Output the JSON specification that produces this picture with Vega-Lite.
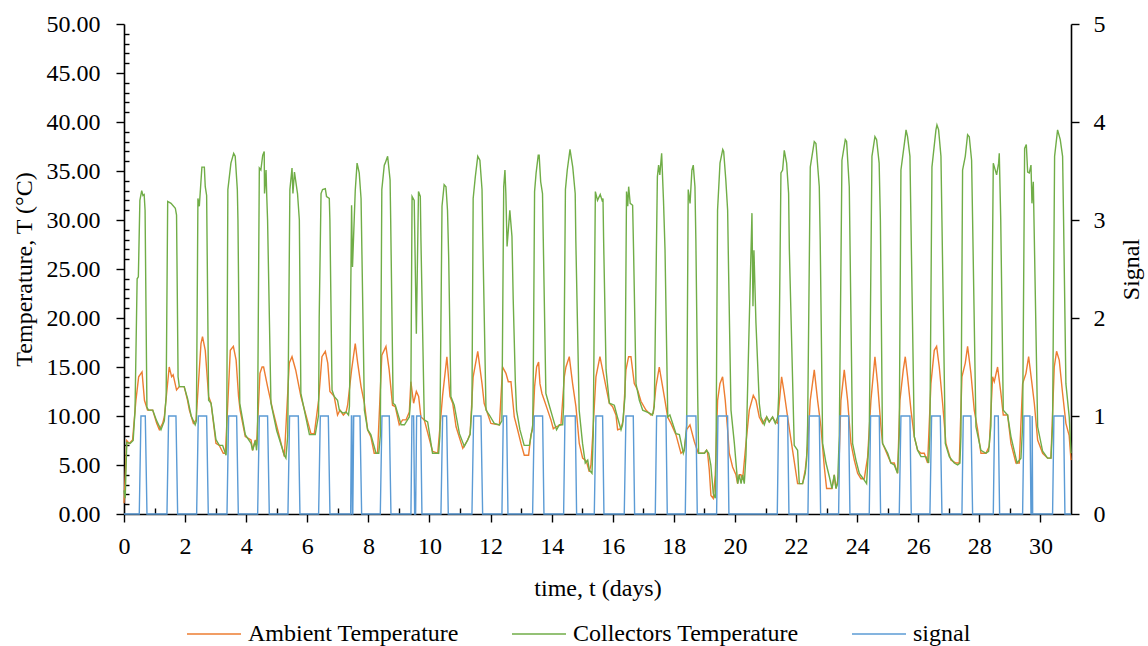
{
"$schema": "https://vega.github.io/schema/vega-lite/v6.json",
"width": 947, "height": 490,
"autosize": {"type": "none"},
"padding": {"left": 124, "top": 24, "right": 77, "bottom": 132},
"config": {
  "font": "Liberation Serif",
  "view": {"stroke": null},
  "axis": {"labelFont": "Liberation Serif", "titleFont": "Liberation Serif", "labelFontSize": 24, "titleFontSize": 24, "titleFontWeight": "normal", "labelColor": "#000", "titleColor": "#000", "domainColor": "#000", "tickColor": "#000", "grid": false, "zindex": 1, "domainWidth": 1.6, "tickWidth": 1.4, "labelFlush": false, "labelOverlap": false}
},
"datasets": {
"amb": [
{"t":0,"v":1.1},{"t":0.09,"v":7.5},{"t":0.17,"v":7.2},{"t":0.28,"v":7.55},{"t":0.39,"v":11.6},{"t":0.48,"v":14.0},{"t":0.59,"v":14.5},{"t":0.67,"v":11.6},{"t":0.77,"v":10.6},{"t":0.94,"v":10.6},{"t":1.07,"v":9.25},{"t":1.155,"v":8.6},{"t":1.265,"v":9.25},{"t":1.32,"v":9.9},{"t":1.48,"v":15.0},{"t":1.56,"v":14.0},{"t":1.61,"v":14.2},{"t":1.72,"v":12.65},{"t":1.81,"v":13.0},{"t":1.97,"v":13.0},{"t":2.08,"v":11.6},{"t":2.14,"v":10.6},{"t":2.27,"v":9.25},{"t":2.36,"v":9.6},{"t":2.52,"v":17.4},{"t":2.57,"v":18.1},{"t":2.66,"v":16.7},{"t":2.77,"v":12.0},{"t":2.85,"v":11.3},{"t":3.01,"v":7.2},{"t":3.12,"v":7.0},{"t":3.25,"v":6.2},{"t":3.32,"v":6.2},{"t":3.48,"v":16.7},{"t":3.58,"v":17.1},{"t":3.67,"v":15.7},{"t":3.75,"v":12.0},{"t":3.8,"v":10.6},{"t":3.97,"v":7.9},{"t":4.16,"v":7.55},{"t":4.21,"v":6.5},{"t":4.3,"v":7.55},{"t":4.34,"v":7.0},{"t":4.45,"v":14.35},{"t":4.52,"v":15.0},{"t":4.57,"v":15.0},{"t":4.7,"v":13.0},{"t":4.87,"v":10.6},{"t":5.03,"v":8.6},{"t":5.25,"v":5.85},{"t":5.41,"v":15.4},{"t":5.5,"v":16.05},{"t":5.62,"v":14.7},{"t":5.79,"v":12.0},{"t":5.85,"v":11.3},{"t":6.12,"v":8.2},{"t":6.23,"v":8.2},{"t":6.37,"v":11.6},{"t":6.48,"v":16.05},{"t":6.59,"v":16.6},{"t":6.67,"v":15.4},{"t":6.74,"v":12.5},{"t":6.88,"v":12.0},{"t":6.99,"v":10.1},{"t":7.07,"v":10.6},{"t":7.18,"v":10.1},{"t":7.27,"v":10.4},{"t":7.32,"v":11.1},{"t":7.45,"v":14.7},{"t":7.57,"v":17.4},{"t":7.65,"v":15.4},{"t":7.76,"v":13.0},{"t":7.87,"v":11.3},{"t":7.975,"v":8.6},{"t":8.08,"v":7.9},{"t":8.19,"v":6.2},{"t":8.3,"v":6.2},{"t":8.44,"v":16.2},{"t":8.575,"v":17.1},{"t":8.68,"v":14.7},{"t":8.79,"v":11.1},{"t":8.88,"v":10.95},{"t":9.01,"v":9.1},{"t":9.12,"v":9.6},{"t":9.23,"v":9.6},{"t":9.34,"v":10.4},{"t":9.39,"v":13.5},{"t":9.48,"v":11.3},{"t":9.57,"v":12.5},{"t":9.645,"v":12.0},{"t":9.72,"v":9.9},{"t":9.83,"v":9.6},{"t":10.1,"v":6.4},{"t":10.27,"v":6.2},{"t":10.43,"v":12.1},{"t":10.57,"v":16.05},{"t":10.67,"v":12.0},{"t":10.76,"v":11.3},{"t":10.87,"v":8.9},{"t":11.09,"v":6.7},{"t":11.25,"v":7.55},{"t":11.33,"v":8.2},{"t":11.43,"v":14.0},{"t":11.58,"v":16.6},{"t":11.72,"v":13.3},{"t":11.79,"v":11.3},{"t":12.01,"v":9.25},{"t":12.29,"v":9.1},{"t":12.394,"v":15.0},{"t":12.503,"v":14.35},{"t":12.58,"v":13.5},{"t":12.667,"v":13.5},{"t":12.776,"v":9.9},{"t":12.885,"v":8.6},{"t":12.994,"v":7.2},{"t":13.103,"v":6.0},{"t":13.245,"v":6.0},{"t":13.321,"v":8.1},{"t":13.376,"v":8.6},{"t":13.441,"v":13.0},{"t":13.507,"v":15.0},{"t":13.572,"v":15.5},{"t":13.616,"v":13.3},{"t":13.681,"v":12.3},{"t":13.758,"v":11.6},{"t":13.867,"v":10.6},{"t":13.976,"v":9.6},{"t":14.053,"v":8.7},{"t":14.14,"v":8.9},{"t":14.304,"v":9.1},{"t":14.413,"v":14.0},{"t":14.467,"v":15.0},{"t":14.576,"v":16.05},{"t":14.685,"v":13.3},{"t":14.794,"v":10.95},{"t":14.903,"v":7.2},{"t":15.013,"v":5.7},{"t":15.1,"v":5.5},{"t":15.144,"v":5.3},{"t":15.231,"v":4.3},{"t":15.286,"v":5.0},{"t":15.341,"v":7.9},{"t":15.449,"v":14.0},{"t":15.58,"v":16.05},{"t":15.667,"v":14.7},{"t":15.776,"v":13.0},{"t":15.886,"v":11.3},{"t":15.995,"v":10.95},{"t":16.104,"v":10.1},{"t":16.159,"v":8.6},{"t":16.268,"v":8.7},{"t":16.344,"v":9.6},{"t":16.431,"v":14.7},{"t":16.518,"v":16.05},{"t":16.595,"v":16.05},{"t":16.704,"v":13.3},{"t":16.813,"v":12.65},{"t":16.922,"v":11.5},{"t":17.086,"v":10.6},{"t":17.25,"v":10.1},{"t":17.326,"v":10.3},{"t":17.413,"v":13.0},{"t":17.522,"v":15.0},{"t":17.631,"v":13.0},{"t":17.708,"v":11.6},{"t":17.795,"v":9.9},{"t":17.905,"v":9.25},{"t":18.068,"v":8.1},{"t":18.232,"v":6.2},{"t":18.341,"v":6.5},{"t":18.418,"v":8.6},{"t":18.527,"v":9.1},{"t":18.669,"v":7.4},{"t":18.8,"v":6.2},{"t":18.995,"v":6.2},{"t":19.071,"v":6.5},{"t":19.104,"v":6.2},{"t":19.159,"v":4.5},{"t":19.213,"v":1.9},{"t":19.29,"v":1.6},{"t":19.355,"v":4.0},{"t":19.432,"v":11.6},{"t":19.508,"v":13.3},{"t":19.595,"v":14.0},{"t":19.682,"v":11.6},{"t":19.759,"v":8.6},{"t":19.813,"v":6.2},{"t":19.922,"v":4.8},{"t":20.032,"v":4.0},{"t":20.086,"v":3.1},{"t":20.141,"v":4.0},{"t":20.195,"v":4.0},{"t":20.25,"v":3.5},{"t":20.359,"v":7.2},{"t":20.468,"v":10.6},{"t":20.6,"v":12.1},{"t":20.687,"v":11.6},{"t":20.796,"v":9.9},{"t":20.905,"v":9.25},{"t":21.036,"v":9.9},{"t":21.124,"v":9.4},{"t":21.233,"v":9.9},{"t":21.32,"v":9.4},{"t":21.396,"v":9.25},{"t":21.45,"v":11.3},{"t":21.527,"v":14.0},{"t":21.614,"v":12.3},{"t":21.723,"v":9.9},{"t":21.886,"v":6.5},{"t":22.05,"v":3.1},{"t":22.214,"v":3.1},{"t":22.301,"v":4.5},{"t":22.378,"v":6.9},{"t":22.465,"v":11.6},{"t":22.596,"v":14.7},{"t":22.705,"v":11.6},{"t":22.814,"v":8.9},{"t":22.924,"v":4.8},{"t":23.0,"v":2.6},{"t":23.175,"v":2.6},{"t":23.251,"v":4.0},{"t":23.306,"v":2.6},{"t":23.393,"v":3.8},{"t":23.469,"v":11.6},{"t":23.578,"v":14.7},{"t":23.687,"v":11.6},{"t":23.797,"v":7.2},{"t":23.906,"v":5.5},{"t":24.015,"v":4.15},{"t":24.124,"v":3.6},{"t":24.233,"v":3.6},{"t":24.342,"v":5.8},{"t":24.451,"v":11.6},{"t":24.582,"v":16.05},{"t":24.669,"v":13.3},{"t":24.778,"v":8.9},{"t":24.833,"v":7.2},{"t":24.996,"v":6.0},{"t":25.105,"v":5.2},{"t":25.214,"v":5.2},{"t":25.323,"v":4.15},{"t":25.4,"v":11.6},{"t":25.509,"v":14.7},{"t":25.575,"v":16.05},{"t":25.651,"v":14.0},{"t":25.761,"v":10.6},{"t":25.87,"v":7.9},{"t":25.979,"v":6.5},{"t":26.088,"v":6.2},{"t":26.197,"v":6.2},{"t":26.306,"v":5.2},{"t":26.415,"v":13.3},{"t":26.524,"v":16.7},{"t":26.601,"v":17.1},{"t":26.688,"v":15.0},{"t":26.797,"v":11.3},{"t":26.906,"v":7.2},{"t":27.069,"v":5.5},{"t":27.233,"v":5.2},{"t":27.342,"v":5.2},{"t":27.43,"v":14.0},{"t":27.539,"v":15.4},{"t":27.615,"v":17.1},{"t":27.724,"v":14.35},{"t":27.833,"v":10.6},{"t":27.943,"v":8.6},{"t":28.052,"v":6.2},{"t":28.216,"v":6.2},{"t":28.324,"v":6.9},{"t":28.434,"v":14.0},{"t":28.488,"v":13.5},{"t":28.597,"v":15.0},{"t":28.706,"v":12.3},{"t":28.783,"v":10.1},{"t":28.925,"v":10.1},{"t":29.034,"v":7.2},{"t":29.198,"v":5.2},{"t":29.307,"v":5.2},{"t":29.416,"v":13.3},{"t":29.526,"v":14.35},{"t":29.613,"v":16.05},{"t":29.722,"v":13.3},{"t":29.799,"v":11.3},{"t":29.908,"v":7.55},{"t":30.072,"v":6.2},{"t":30.234,"v":5.7},{"t":30.344,"v":5.7},{"t":30.452,"v":15.0},{"t":30.528,"v":16.6},{"t":30.615,"v":15.7},{"t":30.725,"v":12.3},{"t":30.833,"v":9.25},{"t":30.94,"v":8.0},{"t":31.0,"v":5.5}
],
"col": [
{"t":0,"v":2.4},{"t":0.04,"v":1.6},{"t":0.09,"v":7.3},{"t":0.2,"v":7.2},{"t":0.3,"v":7.5},{"t":0.36,"v":10.5},{"t":0.43,"v":24.0},{"t":0.47,"v":24.2},{"t":0.52,"v":32.0},{"t":0.58,"v":33.0},{"t":0.62,"v":32.5},{"t":0.66,"v":32.6},{"t":0.69,"v":31.0},{"t":0.75,"v":10.9},{"t":0.8,"v":10.6},{"t":0.94,"v":10.6},{"t":1.07,"v":9.5},{"t":1.21,"v":8.6},{"t":1.32,"v":9.5},{"t":1.38,"v":12.0},{"t":1.43,"v":31.9},{"t":1.54,"v":31.7},{"t":1.68,"v":31.2},{"t":1.72,"v":30.5},{"t":1.77,"v":14.0},{"t":1.81,"v":13.0},{"t":1.97,"v":13.0},{"t":2.08,"v":11.8},{"t":2.2,"v":10.0},{"t":2.33,"v":9.1},{"t":2.37,"v":9.5},{"t":2.42,"v":32.2},{"t":2.465,"v":31.4},{"t":2.55,"v":35.4},{"t":2.63,"v":35.4},{"t":2.66,"v":33.4},{"t":2.705,"v":32.5},{"t":2.77,"v":11.6},{"t":2.85,"v":11.3},{"t":3.01,"v":7.6},{"t":3.12,"v":7.0},{"t":3.23,"v":7.0},{"t":3.34,"v":6.0},{"t":3.36,"v":7.0},{"t":3.4,"v":33.1},{"t":3.5,"v":35.8},{"t":3.59,"v":36.8},{"t":3.64,"v":36.5},{"t":3.71,"v":33.1},{"t":3.73,"v":30.0},{"t":3.79,"v":11.3},{"t":3.97,"v":8.1},{"t":4.16,"v":7.2},{"t":4.21,"v":6.5},{"t":4.3,"v":7.5},{"t":4.34,"v":6.5},{"t":4.37,"v":8.0},{"t":4.43,"v":35.3},{"t":4.48,"v":35.1},{"t":4.54,"v":36.6},{"t":4.59,"v":37.0},{"t":4.6,"v":32.7},{"t":4.65,"v":35.1},{"t":4.67,"v":32.7},{"t":4.7,"v":30.0},{"t":4.81,"v":11.3},{"t":5.0,"v":8.5},{"t":5.25,"v":6.0},{"t":5.3,"v":5.7},{"t":5.36,"v":8.0},{"t":5.43,"v":33.1},{"t":5.5,"v":35.3},{"t":5.53,"v":32.7},{"t":5.58,"v":34.9},{"t":5.68,"v":32.7},{"t":5.74,"v":30.0},{"t":5.79,"v":12.3},{"t":6.07,"v":8.1},{"t":6.23,"v":8.1},{"t":6.26,"v":8.1},{"t":6.37,"v":10.1},{"t":6.39,"v":20.0},{"t":6.45,"v":32.7},{"t":6.5,"v":33.1},{"t":6.59,"v":33.2},{"t":6.63,"v":32.4},{"t":6.72,"v":32.2},{"t":6.74,"v":30.0},{"t":6.81,"v":12.65},{"t":6.88,"v":12.0},{"t":6.99,"v":11.6},{"t":7.05,"v":10.6},{"t":7.16,"v":10.3},{"t":7.27,"v":10.4},{"t":7.35,"v":10.1},{"t":7.38,"v":11.0},{"t":7.43,"v":25.0},{"t":7.45,"v":31.5},{"t":7.48,"v":25.2},{"t":7.57,"v":33.0},{"t":7.63,"v":35.8},{"t":7.7,"v":34.8},{"t":7.76,"v":32.2},{"t":7.87,"v":10.6},{"t":7.975,"v":8.6},{"t":8.08,"v":8.1},{"t":8.25,"v":6.2},{"t":8.34,"v":6.2},{"t":8.39,"v":8.0},{"t":8.44,"v":33.1},{"t":8.52,"v":35.6},{"t":8.55,"v":35.8},{"t":8.63,"v":36.5},{"t":8.71,"v":34.1},{"t":8.73,"v":30.0},{"t":8.81,"v":11.3},{"t":8.88,"v":11.1},{"t":9.07,"v":9.1},{"t":9.18,"v":9.1},{"t":9.28,"v":9.6},{"t":9.34,"v":9.9},{"t":9.39,"v":12.0},{"t":9.43,"v":32.4},{"t":9.5,"v":32.0},{"t":9.57,"v":18.4},{"t":9.64,"v":32.9},{"t":9.7,"v":32.4},{"t":9.72,"v":28.0},{"t":9.83,"v":9.6},{"t":9.94,"v":9.4},{"t":10.1,"v":6.2},{"t":10.3,"v":6.2},{"t":10.34,"v":8.0},{"t":10.41,"v":31.4},{"t":10.48,"v":33.6},{"t":10.54,"v":33.4},{"t":10.59,"v":31.0},{"t":10.63,"v":26.0},{"t":10.7,"v":12.0},{"t":10.81,"v":11.1},{"t":10.98,"v":8.2},{"t":11.14,"v":6.9},{"t":11.25,"v":7.55},{"t":11.33,"v":8.1},{"t":11.39,"v":11.0},{"t":11.43,"v":32.2},{"t":11.5,"v":34.4},{"t":11.58,"v":36.5},{"t":11.65,"v":36.1},{"t":11.72,"v":33.1},{"t":11.74,"v":29.0},{"t":11.85,"v":10.6},{"t":11.96,"v":10.1},{"t":12.12,"v":9.25},{"t":12.29,"v":9.1},{"t":12.37,"v":9.5},{"t":12.43,"v":33.4},{"t":12.47,"v":35.1},{"t":12.5,"v":32.7},{"t":12.54,"v":27.3},{"t":12.63,"v":31.0},{"t":12.7,"v":28.3},{"t":12.74,"v":22.0},{"t":12.81,"v":13.5},{"t":12.85,"v":10.6},{"t":12.96,"v":8.6},{"t":13.1,"v":7.0},{"t":13.27,"v":7.0},{"t":13.32,"v":7.9},{"t":13.38,"v":9.1},{"t":13.4,"v":15.0},{"t":13.44,"v":32.9},{"t":13.49,"v":34.8},{"t":13.56,"v":36.6},{"t":13.59,"v":36.6},{"t":13.64,"v":33.9},{"t":13.7,"v":32.7},{"t":13.725,"v":28.0},{"t":13.81,"v":12.3},{"t":13.9,"v":11.3},{"t":14.09,"v":9.25},{"t":14.16,"v":8.6},{"t":14.25,"v":9.1},{"t":14.36,"v":9.1},{"t":14.39,"v":11.0},{"t":14.45,"v":33.1},{"t":14.51,"v":35.1},{"t":14.6,"v":37.2},{"t":14.69,"v":35.4},{"t":14.77,"v":32.7},{"t":14.79,"v":28.0},{"t":14.9,"v":10.6},{"t":15.01,"v":7.2},{"t":15.1,"v":5.2},{"t":15.18,"v":5.5},{"t":15.23,"v":4.5},{"t":15.32,"v":4.15},{"t":15.36,"v":8.0},{"t":15.43,"v":32.9},{"t":15.5,"v":32.0},{"t":15.59,"v":32.6},{"t":15.65,"v":32.0},{"t":15.68,"v":32.2},{"t":15.7,"v":28.0},{"t":15.78,"v":14.7},{"t":15.89,"v":11.3},{"t":16.05,"v":11.1},{"t":16.16,"v":9.8},{"t":16.27,"v":8.6},{"t":16.32,"v":9.1},{"t":16.4,"v":12.0},{"t":16.45,"v":32.9},{"t":16.49,"v":31.4},{"t":16.52,"v":33.4},{"t":16.57,"v":31.7},{"t":16.65,"v":31.5},{"t":16.68,"v":27.0},{"t":16.76,"v":13.3},{"t":16.87,"v":11.6},{"t":16.98,"v":10.6},{"t":17.2,"v":10.3},{"t":17.3,"v":10.1},{"t":17.36,"v":11.0},{"t":17.46,"v":34.4},{"t":17.5,"v":35.6},{"t":17.54,"v":34.6},{"t":17.6,"v":36.8},{"t":17.66,"v":32.0},{"t":17.71,"v":27.0},{"t":17.8,"v":9.9},{"t":17.87,"v":10.1},{"t":18.07,"v":8.2},{"t":18.18,"v":8.1},{"t":18.31,"v":6.2},{"t":18.34,"v":6.5},{"t":18.42,"v":9.0},{"t":18.47,"v":33.1},{"t":18.53,"v":31.7},{"t":18.59,"v":35.1},{"t":18.635,"v":35.6},{"t":18.69,"v":33.4},{"t":18.72,"v":28.0},{"t":18.78,"v":12.0},{"t":18.81,"v":6.2},{"t":19.0,"v":6.2},{"t":19.07,"v":6.5},{"t":19.14,"v":6.2},{"t":19.21,"v":5.0},{"t":19.29,"v":2.1},{"t":19.355,"v":1.6},{"t":19.38,"v":6.0},{"t":19.43,"v":31.0},{"t":19.51,"v":35.8},{"t":19.6,"v":37.2},{"t":19.63,"v":37.0},{"t":19.7,"v":34.1},{"t":19.76,"v":31.0},{"t":19.79,"v":25.0},{"t":19.87,"v":10.6},{"t":19.98,"v":7.2},{"t":20.09,"v":3.1},{"t":20.14,"v":4.0},{"t":20.2,"v":3.1},{"t":20.25,"v":4.0},{"t":20.305,"v":3.1},{"t":20.36,"v":6.0},{"t":20.45,"v":17.4},{"t":20.556,"v":30.7},{"t":20.589,"v":21.2},{"t":20.621,"v":26.9},{"t":20.687,"v":19.5},{"t":20.796,"v":11.3},{"t":20.85,"v":9.9},{"t":20.96,"v":9.1},{"t":21.04,"v":9.9},{"t":21.12,"v":9.4},{"t":21.23,"v":9.9},{"t":21.32,"v":9.25},{"t":21.4,"v":9.9},{"t":21.43,"v":12.0},{"t":21.505,"v":34.8},{"t":21.56,"v":35.1},{"t":21.614,"v":37.1},{"t":21.691,"v":35.8},{"t":21.756,"v":32.7},{"t":21.78,"v":27.0},{"t":21.94,"v":7.0},{"t":22.05,"v":6.5},{"t":22.105,"v":3.1},{"t":22.214,"v":3.1},{"t":22.3,"v":4.15},{"t":22.345,"v":5.5},{"t":22.378,"v":9.0},{"t":22.465,"v":35.4},{"t":22.596,"v":38.0},{"t":22.651,"v":37.8},{"t":22.76,"v":33.4},{"t":22.79,"v":28.0},{"t":22.87,"v":7.2},{"t":22.98,"v":5.2},{"t":23.09,"v":3.8},{"t":23.175,"v":2.6},{"t":23.25,"v":4.0},{"t":23.306,"v":2.6},{"t":23.36,"v":3.1},{"t":23.415,"v":8.0},{"t":23.502,"v":36.1},{"t":23.611,"v":38.2},{"t":23.654,"v":38.0},{"t":23.742,"v":33.4},{"t":23.764,"v":28.0},{"t":23.85,"v":7.2},{"t":23.96,"v":5.5},{"t":24.07,"v":4.15},{"t":24.2,"v":3.6},{"t":24.309,"v":3.1},{"t":24.396,"v":8.0},{"t":24.484,"v":36.5},{"t":24.582,"v":38.5},{"t":24.637,"v":38.2},{"t":24.72,"v":35.8},{"t":24.76,"v":30.0},{"t":24.83,"v":7.2},{"t":25.0,"v":6.2},{"t":25.105,"v":5.2},{"t":25.214,"v":5.0},{"t":25.323,"v":4.15},{"t":25.378,"v":8.0},{"t":25.433,"v":35.1},{"t":25.575,"v":38.5},{"t":25.6,"v":39.2},{"t":25.65,"v":38.5},{"t":25.728,"v":36.5},{"t":25.76,"v":30.0},{"t":25.87,"v":7.9},{"t":25.98,"v":6.5},{"t":26.09,"v":5.85},{"t":26.25,"v":5.85},{"t":26.34,"v":5.2},{"t":26.38,"v":8.0},{"t":26.448,"v":35.4},{"t":26.579,"v":39.2},{"t":26.612,"v":39.7},{"t":26.666,"v":39.2},{"t":26.743,"v":36.5},{"t":26.775,"v":30.0},{"t":26.885,"v":7.2},{"t":27.016,"v":5.85},{"t":27.178,"v":5.2},{"t":27.288,"v":5.0},{"t":27.364,"v":5.2},{"t":27.397,"v":8.0},{"t":27.451,"v":35.1},{"t":27.539,"v":36.5},{"t":27.615,"v":38.7},{"t":27.67,"v":38.5},{"t":27.746,"v":36.1},{"t":27.779,"v":30.0},{"t":27.888,"v":8.9},{"t":28.052,"v":6.5},{"t":28.216,"v":6.2},{"t":28.303,"v":6.4},{"t":28.379,"v":9.0},{"t":28.456,"v":35.8},{"t":28.565,"v":34.6},{"t":28.63,"v":35.8},{"t":28.652,"v":36.8},{"t":28.7,"v":30.0},{"t":28.783,"v":10.6},{"t":28.925,"v":10.1},{"t":29.034,"v":7.9},{"t":29.235,"v":5.2},{"t":29.362,"v":5.7},{"t":29.416,"v":9.0},{"t":29.482,"v":37.3},{"t":29.537,"v":37.7},{"t":29.581,"v":34.9},{"t":29.635,"v":34.8},{"t":29.69,"v":35.6},{"t":29.722,"v":31.7},{"t":29.766,"v":33.9},{"t":29.8,"v":28.0},{"t":29.908,"v":8.9},{"t":30.072,"v":6.4},{"t":30.234,"v":5.7},{"t":30.344,"v":5.7},{"t":30.397,"v":9.0},{"t":30.463,"v":36.5},{"t":30.561,"v":39.2},{"t":30.648,"v":38.2},{"t":30.725,"v":36.5},{"t":30.757,"v":30.0},{"t":30.833,"v":13.3},{"t":30.942,"v":9.9},{"t":31.0,"v":6.2}
],
"sig": [
{"t":0,"s":0},{"t":0.5,"s":0},{"t":0.555,"s":1},{"t":0.697,"s":1},{"t":0.752,"s":0},
{"t":1.406,"s":0},{"t":1.461,"s":1},{"t":1.701,"s":1},{"t":1.756,"s":0},
{"t":2.378,"s":0},{"t":2.432,"s":1},{"t":2.705,"s":1},{"t":2.759,"s":0},
{"t":3.371,"s":0},{"t":3.425,"s":1},{"t":3.687,"s":1},{"t":3.742,"s":0},
{"t":4.375,"s":0},{"t":4.43,"s":1},{"t":4.7,"s":1},{"t":4.756,"s":0},
{"t":5.367,"s":0},{"t":5.42,"s":1},{"t":5.706,"s":1},{"t":5.76,"s":0},
{"t":6.371,"s":0},{"t":6.426,"s":1},{"t":6.688,"s":1},{"t":6.742,"s":0},
{"t":7.42,"s":0},{"t":7.445,"s":1},{"t":7.46,"s":1},{"t":7.475,"s":0},{"t":7.49,"s":0},{"t":7.52,"s":1},{"t":7.724,"s":1},{"t":7.779,"s":0},
{"t":8.39,"s":0},{"t":8.444,"s":1},{"t":8.684,"s":1},{"t":8.739,"s":0},
{"t":9.393,"s":0},{"t":9.426,"s":1},{"t":9.481,"s":1},{"t":9.514,"s":0},{"t":9.546,"s":0},{"t":9.579,"s":1},{"t":9.71,"s":1},{"t":9.753,"s":0},
{"t":10.375,"s":0},{"t":10.43,"s":1},{"t":10.561,"s":1},{"t":10.615,"s":0},
{"t":11.39,"s":0},{"t":11.445,"s":1},{"t":11.685,"s":1},{"t":11.74,"s":0},
{"t":12.372,"s":0},{"t":12.416,"s":1},{"t":12.525,"s":1},{"t":12.569,"s":0},
{"t":13.376,"s":0},{"t":13.43,"s":1},{"t":13.703,"s":1},{"t":13.747,"s":0},
{"t":14.391,"s":0},{"t":14.435,"s":1},{"t":14.772,"s":1},{"t":14.816,"s":0},
{"t":15.395,"s":0},{"t":15.449,"s":1},{"t":15.667,"s":1},{"t":15.711,"s":0},
{"t":16.376,"s":0},{"t":16.431,"s":1},{"t":16.671,"s":1},{"t":16.715,"s":0},
{"t":17.392,"s":0},{"t":17.435,"s":1},{"t":17.741,"s":1},{"t":17.784,"s":0},
{"t":18.374,"s":0},{"t":18.418,"s":1},{"t":18.722,"s":1},{"t":18.766,"s":0},
{"t":19.399,"s":0},{"t":19.443,"s":1},{"t":19.759,"s":1},{"t":19.802,"s":0},
{"t":21.385,"s":0},{"t":21.429,"s":1},{"t":21.723,"s":1},{"t":21.767,"s":0},
{"t":22.389,"s":0},{"t":22.432,"s":1},{"t":22.76,"s":1},{"t":22.804,"s":0},
{"t":23.393,"s":0},{"t":23.437,"s":1},{"t":23.72,"s":1},{"t":23.764,"s":0},
{"t":24.396,"s":0},{"t":24.44,"s":1},{"t":24.724,"s":1},{"t":24.767,"s":0},
{"t":25.378,"s":0},{"t":25.433,"s":1},{"t":25.728,"s":1},{"t":25.771,"s":0},
{"t":26.382,"s":0},{"t":26.437,"s":1},{"t":26.721,"s":1},{"t":26.775,"s":0},
{"t":27.43,"s":0},{"t":27.473,"s":1},{"t":27.724,"s":1},{"t":27.779,"s":0},
{"t":28.456,"s":0},{"t":28.499,"s":1},{"t":28.619,"s":1},{"t":28.663,"s":0},
{"t":29.416,"s":0},{"t":29.46,"s":1},{"t":29.657,"s":1},{"t":29.69,"s":0},{"t":29.72,"s":0},{"t":29.73,"s":1},{"t":29.745,"s":0},
{"t":30.397,"s":0},{"t":30.441,"s":1},{"t":30.757,"s":1},{"t":30.801,"s":0},
{"t":31.0,"s":0}
]
},
"layer": [
  {
    "layer": [
      {
        "data": {"name": "amb"},
        "mark": {"type": "line", "strokeWidth": 1.4},
        "encoding": {
          "x": {"field": "t", "type": "quantitative", "scale": {"domain": [0, 31], "nice": false, "zero": false},
                "axis": {"values": [0,2,4,6,8,10,12,14,16,18,20,22,24,26,28,30], "format": "d", "tickSize": 8, "labelPadding": 12, "title": "time, t (days)", "titlePadding": 18}},
          "y": {"field": "v", "type": "quantitative", "scale": {"domain": [0, 50], "nice": false, "zero": true},
                "axis": {"orient": "left", "values": [0,5,10,15,20,25,30,35,40,45,50], "format": ".2f", "tickSize": 8, "labelPadding": 16, "title": "Temperature, T (°C)", "titlePadding": 10}},
          "color": {"datum": "Ambient Temperature", "type": "nominal",
                    "scale": {"domain": ["Ambient Temperature", "Collectors Temperature", "signal"], "range": ["#ED7D31", "#70AD47", "#5B9BD5"]},
                    "legend": {"title": null, "orient": "none", "legendX": 62, "legendY": 582, "direction": "horizontal", "symbolType": "stroke", "symbolSize": 2916, "symbolStrokeWidth": 1.5, "labelFontSize": 24, "labelFont": "Liberation Serif", "labelColor": "#000", "columnPadding": 50, "labelOffset": 6, "labelLimit": 400}}
        }
      },
      {
        "data": {"name": "col"},
        "mark": {"type": "line", "strokeWidth": 1.4},
        "encoding": {
          "x": {"field": "t", "type": "quantitative", "scale": {"domain": [0, 31], "nice": false, "zero": false},
                "axis": {"values": [0,2,4,6,8,10,12,14,16,18,20,22,24,26,28,30], "format": "d", "tickSize": 8, "labelPadding": 12, "title": "time, t (days)", "titlePadding": 18}},
          "y": {"field": "v", "type": "quantitative", "scale": {"domain": [0, 50], "nice": false, "zero": true},
                "axis": {"orient": "left", "values": [1,2,3,4,6,7,8,9,11,12,13,14,16,17,18,19,21,22,23,24,26,27,28,29,31,32,33,34,36,37,38,39,41,42,43,44,46,47,48,49], "tickSize": -5, "labels": false, "domain": false, "title": null}},
          "color": {"datum": "Collectors Temperature", "type": "nominal",
                    "scale": {"domain": ["Ambient Temperature", "Collectors Temperature", "signal"], "range": ["#ED7D31", "#70AD47", "#5B9BD5"]}}
        }
      }
    ],
    "resolve": {"axis": {"y": "independent"}}
  },
  {
    "data": {"name": "sig"},
    "mark": {"type": "line", "strokeWidth": 1.4},
    "encoding": {
      "x": {"field": "t", "type": "quantitative", "scale": {"domain": [0, 31], "nice": false, "zero": false},
            "axis": {"orient": "bottom", "values": [1,3,5,7,9,11,13,15,17,19,21,23,25,27,29], "tickSize": -6, "labels": false, "domain": false, "title": null}},
      "y": {"field": "s", "type": "quantitative", "scale": {"domain": [0, 5], "nice": false},
            "axis": {"orient": "right", "values": [0,1,2,3,4,5], "format": "d", "tickSize": 8, "labelPadding": 14, "title": "Signal", "titleAngle": 270, "titlePadding": 38}},
      "color": {"datum": "signal", "type": "nominal",
                "scale": {"domain": ["Ambient Temperature", "Collectors Temperature", "signal"], "range": ["#ED7D31", "#70AD47", "#5B9BD5"]}}
    }
  }
],
"resolve": {"scale": {"y": "independent"}, "axis": {"x": "independent", "y": "independent"}}
}
